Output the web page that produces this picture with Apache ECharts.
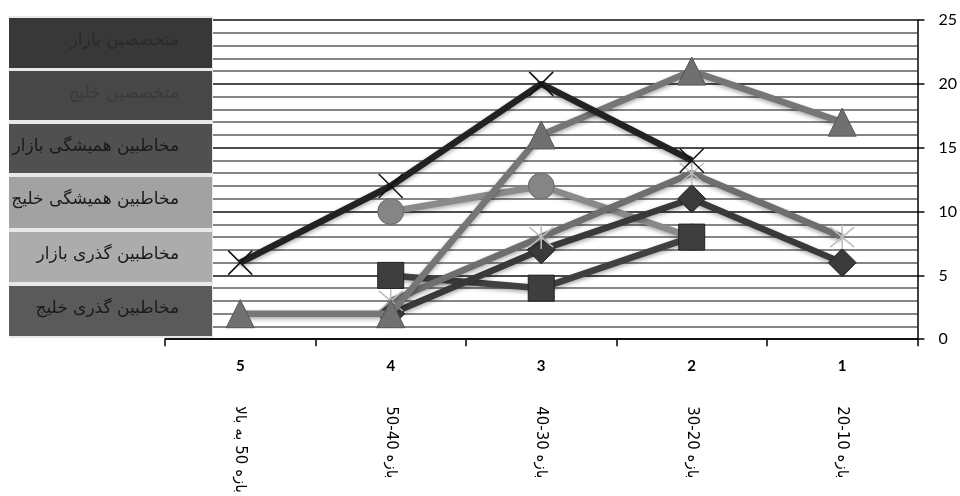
<!DOCTYPE html>
<html>
<head>
<meta charset="utf-8">
<script src="https://cdn.jsdelivr.net/npm/echarts@6/dist/echarts.min.js"></script>
<style>
html,body{margin:0;padding:0;background:#fff;}
#chart{width:960px;height:496px;}
</style>
</head>
<body>
<div id="chart"></div>
<script>
// ---- data ----
var categories = ['5', '4', '3', '2', '1'];
var rangeLabels = ['بازه 50 به بالا', 'بازه 40-50', 'بازه 30-40', 'بازه 20-30', 'بازه 10-20'];
var seriesNames = ['متخصصین بازار', 'متخصصین خلیج', 'مخاطبین همیشگی بازار', 'مخاطبین همیشگی خلیج', 'مخاطبین گذری بازار', 'مخاطبین گذری خلیج'];
var expertsBazaar = [6, 12, 20, 14, null];        // black line, X markers
var expertsGulf = [null, 2, 7, 11, 6];            // diamonds
var permanentBazaar = [null, 5, 4, 8, null];      // squares
var permanentGulf = [null, 10, 12, 8, null];      // circles
var transientBazaar = [null, 3, 8, 13, 8];        // star markers
var transientGulf = [2, 2, 16, 21, 17];           // triangles
var yTicks = [0, 5, 10, 15, 20, 25];

// ---- styles ----
var X_PATH = 'path://M0,0 L20,20 M20,0 L0,20';
var STAR_PATH = 'path://M0,0 L20,20 M20,0 L0,20 M10,-2 L10,22';
var legendFills = ['#383838', '#474747', '#505050', '#a2a2a2', '#acacac', '#5a5a5a'];
var legendText = ['#2a2a2a', '#3a3a3a', '#1a1a1a', '#1a1a1a', '#1a1a1a', '#1a1a1a'];

function lineSeries(name, data, color, symbol, size, fill, border, bw, z) {
  return {
    name: name, type: 'line', data: data, z: z,
    symbol: symbol, symbolSize: size,
    connectNulls: false,
    lineStyle: {color: color, width: 6.5, shadowColor: 'rgba(0,0,0,0.35)', shadowBlur: 4, shadowOffsetY: 2},
    itemStyle: {color: fill, borderColor: border, borderWidth: bw},
    emphasis: {disabled: true},
    animation: false
  };
}

var chart = echarts.init(document.getElementById('chart'));

var graphics = [];
graphics.push({type: 'rect', shape: {x: 9, y: 16, width: 204, height: 322}, style: {fill: '#e8e8e8'}, z: 100});
var boxTops = [18, 71, 124, 177, 232, 286];
var boxH = [50, 49, 49, 51, 50, 50];
for (var i = 0; i < seriesNames.length; i++) {
  graphics.push({type: 'rect', shape: {x: 9, y: boxTops[i], width: 203, height: boxH[i]}, style: {fill: legendFills[i]}, z: 101});
  graphics.push({type: 'text', x: 179, y: boxTops[i] + 23, style: {text: seriesNames[i], fill: legendText[i], font: '17px "DejaVu Sans"', textAlign: 'right', textVerticalAlign: 'middle'}, z: 102});
}

chart.setOption({
  animation: false,
  backgroundColor: '#fff',
  grid: {left: 165, right: 42, top: 20, bottom: 156.7, containLabel: false},
  xAxis: [{
    type: 'category', data: categories, position: 'bottom', boundaryGap: true,
    axisLine: {show: true, lineStyle: {color: '#000', width: 1.5}},
    axisTick: {show: true, length: 7, lineStyle: {color: '#000', width: 1.5}},
    axisLabel: {margin: 19, fontFamily: 'Lato', fontSize: 15, fontWeight: 'bold', color: '#000'},
    splitLine: {show: false}
  }, {
    type: 'category', data: rangeLabels, position: 'bottom', boundaryGap: true,
    axisLine: {show: false}, axisTick: {show: false},
    axisLabel: {margin: 67, rotate: -90, fontFamily: 'DejaVu Sans', fontSize: 15, color: '#000'},
    splitLine: {show: false}
  }],
  yAxis: {
    type: 'value', position: 'right', min: 0, max: 25, interval: 5,
    axisLine: {show: true, lineStyle: {color: '#000', width: 1.5}},
    axisTick: {show: true, length: 7, lineStyle: {color: '#000', width: 1.5}},
    axisLabel: {margin: 21, fontFamily: 'Lato', fontSize: 16, color: '#000',
      formatter: function (v) { return yTicks.indexOf(v) >= 0 ? String(v) : ''; }},
    splitLine: {show: true, lineStyle: {color: '#111', width: 1.5}},
    minorTick: {show: false, splitNumber: 5},
    minorSplitLine: {show: true, lineStyle: {color: '#858585', width: 1.8}}
  },
  series: [
    lineSeries(seriesNames[3], permanentGulf, '#8a8a8a', 'circle', 26, '#858585', '#6a6a6a', 1, 3),
    lineSeries(seriesNames[2], permanentBazaar, '#404040', 'rect', 26, '#3e3e3e', '#222', 1, 3),
    lineSeries(seriesNames[1], expertsGulf, '#393939', 'diamond', 28, '#3a3a3a', '#222', 1, 4),
    lineSeries(seriesNames[4], transientBazaar, '#6e6e6e', STAR_PATH, 24, 'none', '#bdbdbd', 1.5, 5),
    lineSeries(seriesNames[5], transientGulf, '#767676', 'triangle', 28, '#707070', '#555', 1, 6),
    lineSeries(seriesNames[0], expertsBazaar, '#222', X_PATH, 24, 'none', '#111', 1.5, 7)
  ],
  graphic: graphics
});
</script>
</body>
</html>
